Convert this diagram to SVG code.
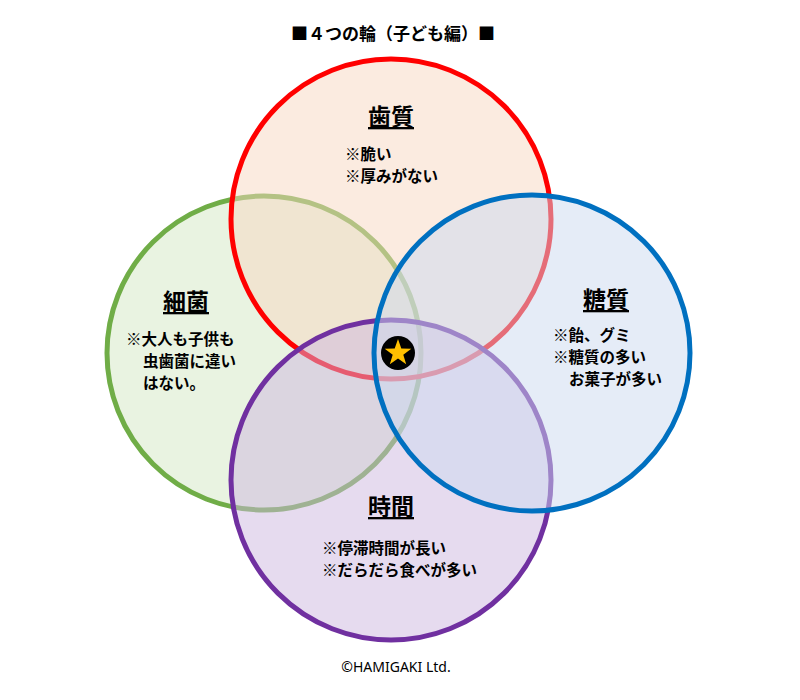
<svg xmlns="http://www.w3.org/2000/svg" width="800" height="700" viewBox="0 0 800 700">
<style>
text{font-family:"Noto Sans CJK JP","Noto Sans",sans-serif;fill:#000}
.t{font-size:23px;font-weight:bold;text-decoration:underline}
.b{font-size:15.5px;font-weight:bold}
circle.c{stroke-width:5;fill-opacity:0.5}
</style>
<rect width="800" height="700" fill="#fff"/>
<text x="393" y="40" text-anchor="middle" class="b" style="font-size:17px">■４つの輪（子ども編）■</text>
<g id="green"><circle class="c" cx="264" cy="353" r="157" fill="#d3e8c4" stroke="#70ad47"/></g>
<g id="red"><circle class="c" cx="391" cy="219" r="160" fill="#f8d8c2" stroke="#ff0000"/></g>
<g id="purple"><circle class="c" cx="391" cy="480" r="160" fill="#cdb7e0" stroke="#7030a0"/></g>
<g id="blue"><circle class="c" cx="532" cy="353" r="158" fill="#cbd9ef" stroke="#0070c0"/></g>
<g id="labels">
<text x="391" y="125" text-anchor="middle" class="t">歯質</text>
<text x="345" y="160" class="b">※脆い</text>
<text x="345" y="182" class="b">※厚みがない</text>
<text x="186" y="310" text-anchor="middle" class="t">細菌</text>
<text x="126" y="345" class="b">※大人も子供も</text>
<text x="143" y="367" class="b">虫歯菌に違い</text>
<text x="143" y="389" class="b">はない。</text>
<text x="606" y="308" text-anchor="middle" class="t">糖質</text>
<text x="553" y="341" class="b">※飴、グミ</text>
<text x="553" y="363" class="b">※糖質の多い</text>
<text x="569" y="385" class="b">お菓子が多い</text>
<text x="391" y="515" text-anchor="middle" class="t">時間</text>
<text x="322" y="554" class="b">※停滞時間が長い</text>
<text x="322" y="576" class="b">※だらだら食べが多い</text>
</g>
<g id="star"><circle cx="398" cy="353" r="17" fill="#000"/>
<polygon fill="#ffc000" points="398,339 401.3,348.5 411.3,348.7 403.3,354.7 406.2,364.3 398,358.6 389.8,364.3 392.7,354.7 384.7,348.7 394.7,348.5"/></g>
<text x="396" y="672" text-anchor="middle" style="font-family:'Noto Sans',sans-serif;font-size:14px">©HAMIGAKI Ltd.</text>
</svg>
